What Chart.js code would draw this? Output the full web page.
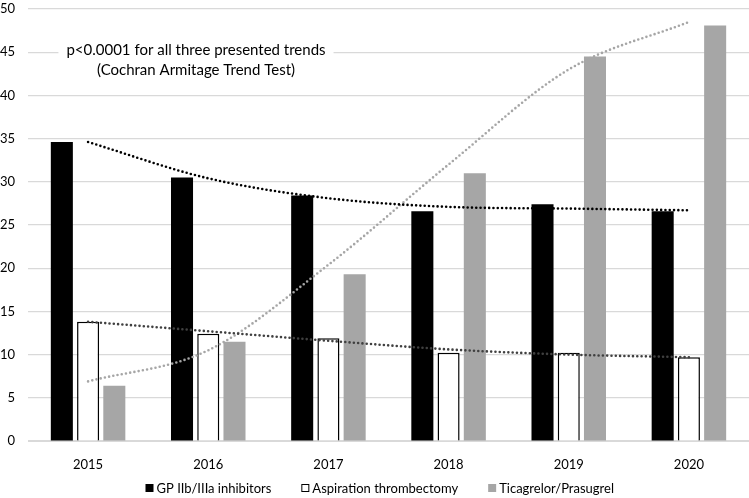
<!DOCTYPE html>
<html>
<head>
<meta charset="utf-8">
<script src="https://cdn.jsdelivr.net/npm/chart.js@4/dist/chart.umd.min.js"></script>
<style>
  html, body { margin: 0; padding: 0; background: #ffffff; }
  #wrap { width: 749px; height: 498px; }
</style>
</head>
<body>
<div id="wrap"><canvas id="c" width="749" height="498"></canvas></div>
<script>
const categories = ['2015', '2016', '2017', '2018', '2019', '2020'];
const gpValues = [34.6, 30.5, 28.4, 26.6, 27.4, 26.6];
const aspirationValues = [13.8, 12.4, 11.9, 10.2, 10.2, 9.7];
const ticagrelorValues = [6.4, 11.5, 19.3, 31.0, 44.5, 48.1];
const gpTrend = [34.6, 30.4, 28.1, 27.1, 26.9, 26.7];
const aspirationTrend = [13.8, 12.7, 11.6, 10.6, 10.0, 9.7];
const ticagrelorTrend = [6.9, 10.5, 20.4, 32.0, 43.0, 48.5];
const yTicks = [0, 5, 10, 15, 20, 25, 30, 35, 40, 45, 50];
const seriesNames = ['GP IIb/IIIa inhibitors', 'Aspiration thrombectomy', 'Ticagrelor/Prasugrel'];
const noteLines = ['p<0.0001 for all three presented trends', '(Cochran Armitage Trend Test)'];

const FONT = 'Lato, "Open Sans", sans-serif';

const notePlugin = {
  id: 'note',
  afterDatasetsDraw(chart) {
    const ctx = chart.ctx;
    const a = chart.chartArea;
    const cx = a.left + 0.233 * (a.right - a.left);
    ctx.save();
    ctx.font = '15px ' + FONT;
    ctx.textAlign = 'center';
    ctx.textBaseline = 'middle';
    const w = Math.max(...noteLines.map(t => ctx.measureText(t).width)) + 16;
    ctx.fillStyle = '#ffffff';
    ctx.fillRect(cx - w / 2, a.top + 30, w, 42);
    ctx.fillStyle = '#000000';
    ctx.fillText(noteLines[0], cx, a.top + 41);
    ctx.fillText(noteLines[1], cx, a.top + 61);
    ctx.restore();
  }
};

// legend drawn from the bar datasets' own labels and colours
const legendPlugin = {
  id: 'barLegend',
  afterDraw(chart) {
    const ctx = chart.ctx;
    const items = chart.data.datasets.filter(d => d.type === 'bar');
    ctx.save();
    ctx.font = '13px ' + FONT;
    ctx.textBaseline = 'middle';
    const box = 8, gapBox = 3, gapItem = 30;
    const widths = items.map(d => box + gapBox + ctx.measureText(d.label).width);
    const total = widths.reduce((s, w) => s + w, 0) + gapItem * (items.length - 1);
    let x = chart.width * 0.507 - total / 2;
    const y = chart.height - 10;
    items.forEach((d, i) => {
      ctx.fillStyle = d.backgroundColor;
      ctx.fillRect(x, y - box / 2, box, box);
      if (d.borderWidth > 0) {
        ctx.strokeStyle = d.borderColor;
        ctx.lineWidth = 1;
        ctx.strokeRect(x + 0.5, y - box / 2 + 0.5, box - 1, box - 1);
      }
      ctx.fillStyle = '#000000';
      ctx.fillText(d.label, x + box + gapBox, y + 0.5);
      x += widths[i] + gapItem;
    });
    ctx.restore();
  }
};

const dotStyle = { borderDash: [0, 4.3], borderCapStyle: 'round', borderWidth: 2.6, pointRadius: 0, fill: false, tension: 0.4, cubicInterpolationMode: 'monotone' };

new Chart(document.getElementById('c'), {
  data: {
    labels: categories,
    datasets: [
      { type: 'bar', label: seriesNames[0], data: gpValues, backgroundColor: '#000000', borderColor: '#000000', borderWidth: 0, order: 2 },
      { type: 'bar', label: seriesNames[1], data: aspirationValues, backgroundColor: '#ffffff', borderColor: '#000000', borderWidth: 1.5, order: 2 },
      { type: 'bar', label: seriesNames[2], data: ticagrelorValues, backgroundColor: '#a6a6a6', borderColor: '#a6a6a6', borderWidth: 0, order: 2 },
      Object.assign({ type: 'line', label: 'trend1', data: gpTrend, borderColor: '#000000', order: 1 }, dotStyle),
      Object.assign({ type: 'line', label: 'trend2', data: aspirationTrend, borderColor: '#404040', order: 1 }, dotStyle),
      Object.assign({ type: 'line', label: 'trend3', data: ticagrelorTrend, borderColor: '#a6a6a6', order: 1 }, dotStyle)
    ]
  },
  options: {
    responsive: false,
    devicePixelRatio: 1,
    animation: false,
    layout: { padding: { left: 0, right: 0, top: 9, bottom: 17 } },
    datasets: { bar: { categoryPercentage: 0.655, barPercentage: 0.84 } },
    plugins: {
      legend: { display: false },
      tooltip: { enabled: false }
    },
    scales: {
      x: {
        grid: { display: false },
        border: { color: '#d9d9d9', width: 1 },
        ticks: { color: '#000000', font: { family: FONT, size: 13 }, padding: 8 },
        afterFit: (axis) => { axis.height = 40; axis.paddingLeft = 0; axis.paddingRight = 0; }
      },
      y: {
        min: 0, max: 50,
        afterBuildTicks: (axis) => { axis.ticks = yTicks.map(v => ({ value: v })); },
        grid: { color: '#d9d9d9', lineWidth: 1.2, drawTicks: false },
        border: { display: false },
        ticks: { color: '#000000', font: { family: FONT, size: 13 }, padding: 13 },
        afterFit: (axis) => { axis.width = 28; axis.paddingTop = 0; axis.paddingBottom = 0; }
      }
    }
  },
  plugins: [notePlugin, legendPlugin]
});
</script>
</body>
</html>
